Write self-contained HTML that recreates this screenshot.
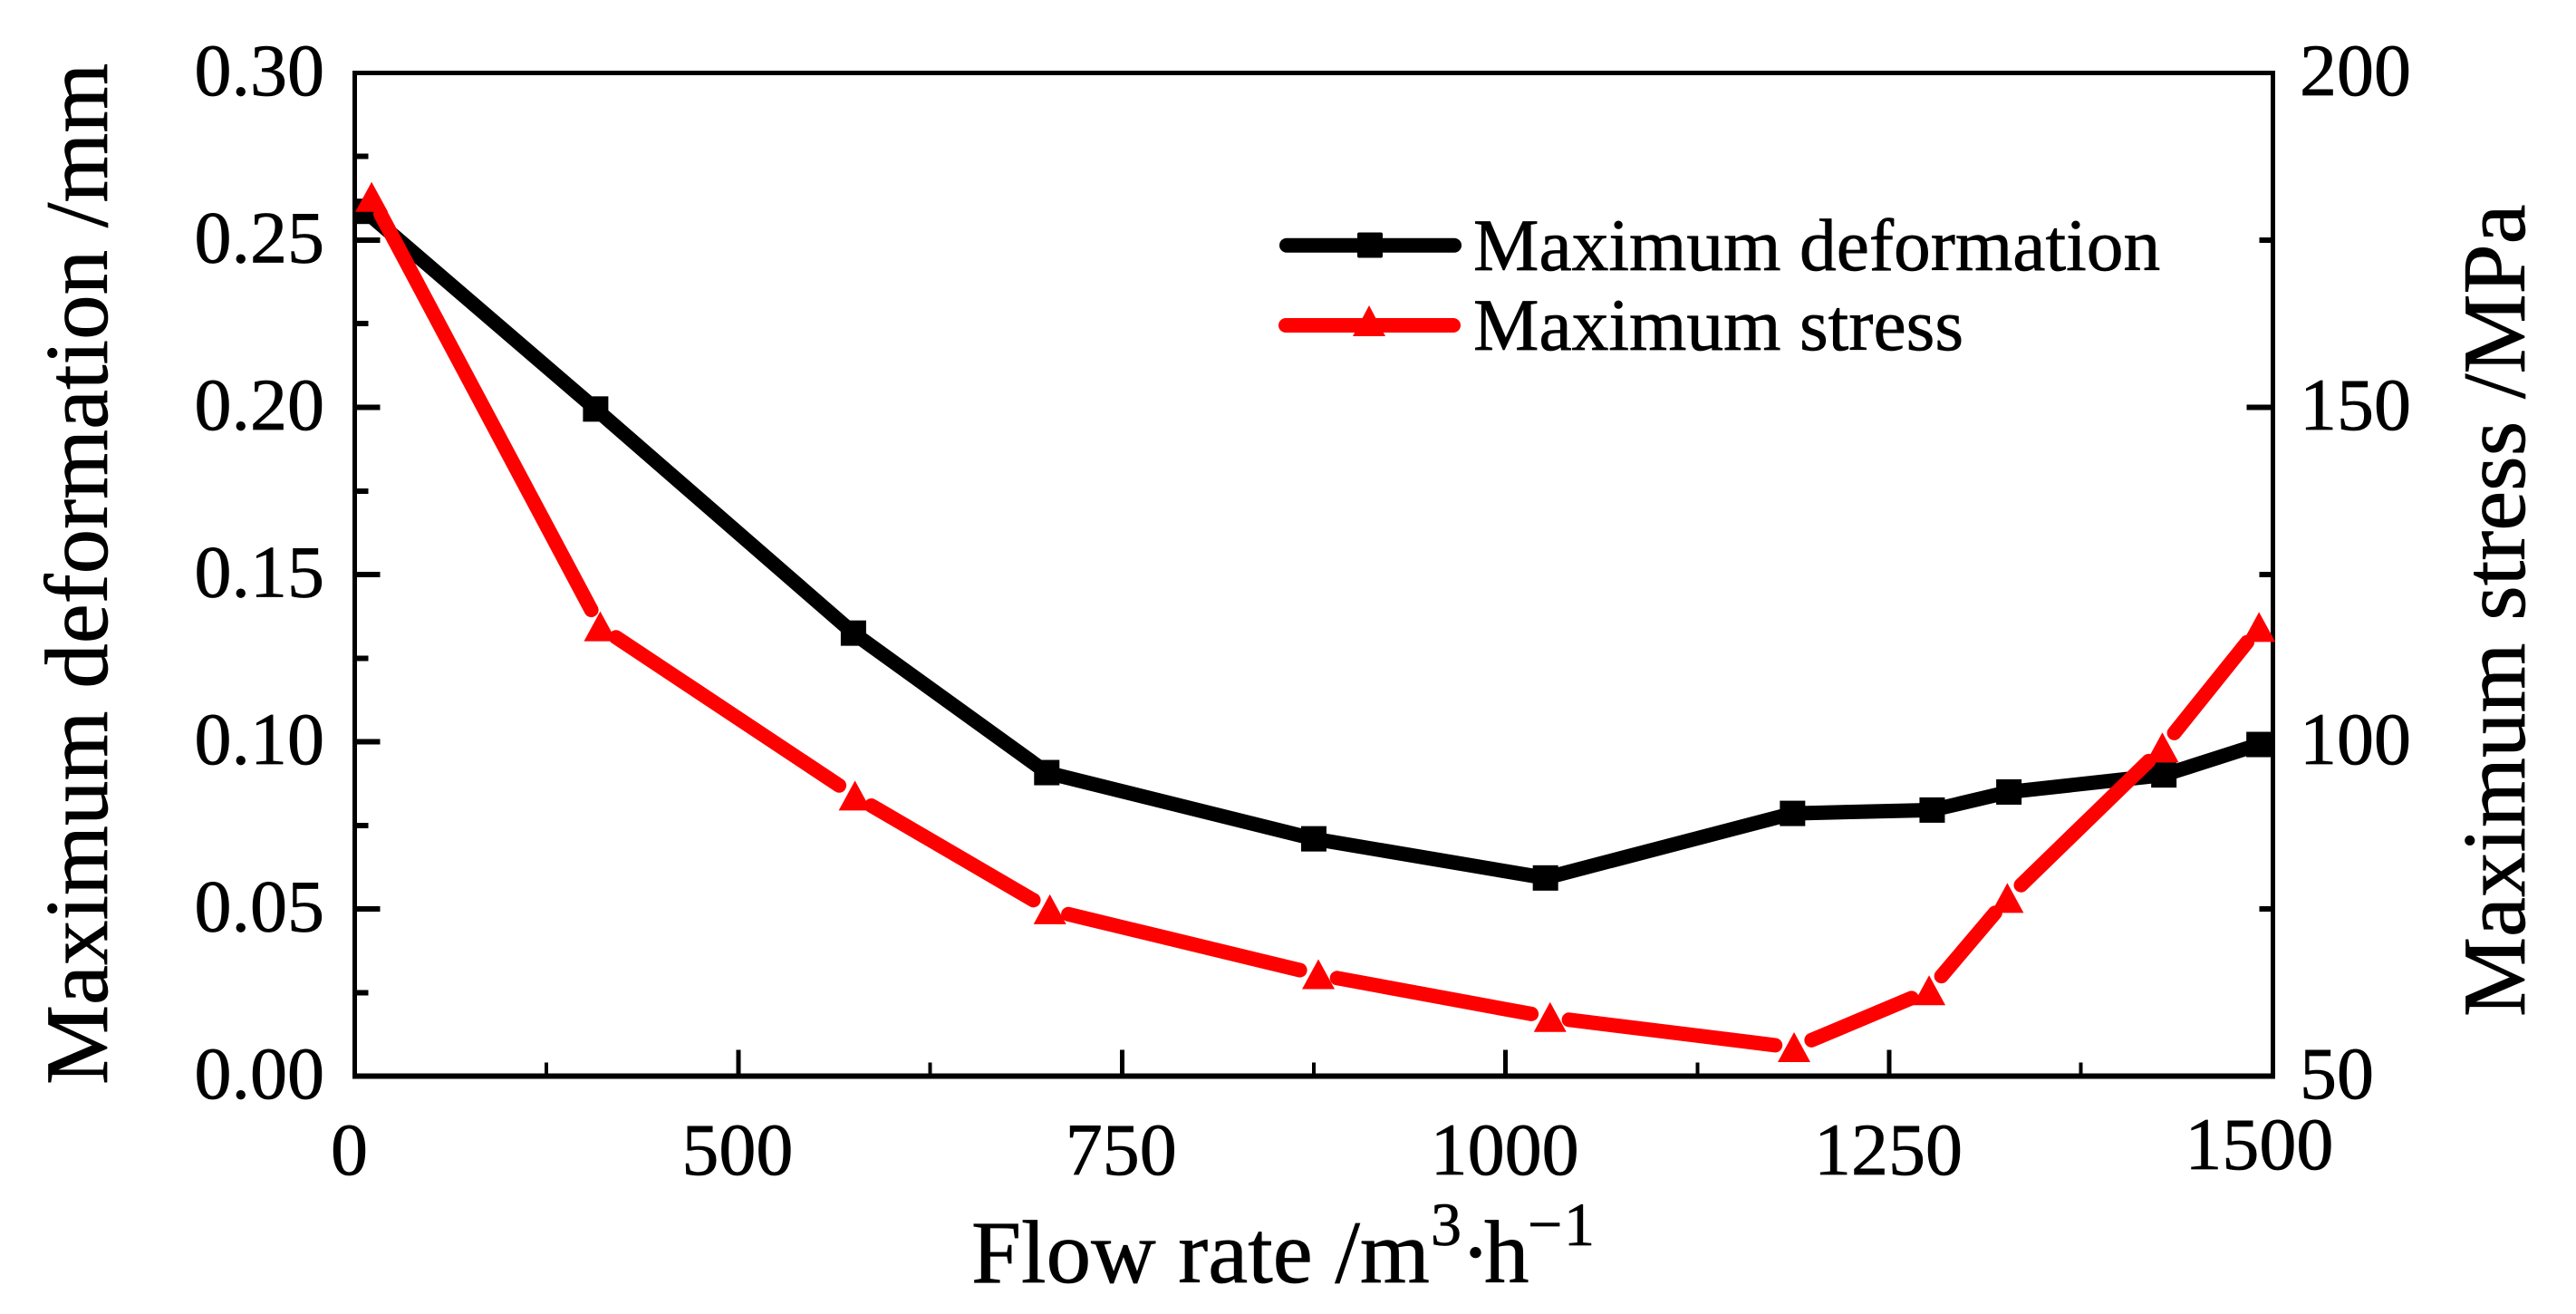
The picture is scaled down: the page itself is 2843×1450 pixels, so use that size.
<!DOCTYPE html>
<html lang="en">
<head>
<meta charset="utf-8">
<title>Maximum deformation and stress vs flow rate</title>
<style>
html,body{margin:0;padding:0;background:#fff;}
svg{display:block;}
text{font-family:"Liberation Serif","Times New Roman",serif;fill:#000;stroke:#000;stroke-width:0.7px;}
</style>
</head>
<body>
<svg id="chart" xmlns="http://www.w3.org/2000/svg" width="2843" height="1450" viewBox="0 0 2843 1450">
  <rect x="0" y="0" width="2843" height="1450" fill="#fff"/>
  <g id="ticks" shape-rendering="crispEdges"></g>
  <g id="labels"></g>
  <g stroke="#000" fill="none" shape-rendering="crispEdges">
    <line x1="391.5" y1="78" x2="391.5" y2="1190.5" stroke-width="5"/>
    <line x1="389" y1="1187.7" x2="2511" y2="1187.7" stroke-width="6"/>
    <line x1="389" y1="80.4" x2="2511" y2="80.4" stroke-width="5"/>
    <line x1="2508.4" y1="78" x2="2508.4" y2="1190.5" stroke-width="5"/>
  </g>
  <g id="series"></g>

  <text transform="translate(118,1197) rotate(-90)" font-size="99">Maximum deformation /mm</text>
  <text transform="translate(2786,1122) rotate(-90)" font-size="99">Maximum stress /MPa</text>
  <text x="1072" y="1415" font-size="99">Flow rate /m<tspan x="1579" y="1374" font-size="68">3</tspan><tspan x="1612" y="1415">·</tspan><tspan x="1638" y="1415">h</tspan><tspan x="1686" y="1374" font-size="68">−</tspan><tspan x="1726" y="1374" font-size="68">1</tspan></text>

  <g>
    <g>
      <line x1="1420" y1="270.7" x2="1605" y2="270.7" stroke="#000" stroke-width="16" stroke-linecap="round"/>
      <rect x="1498" y="256.5" width="28" height="28" rx="2" fill="#000"/>
      <text x="1626" y="298" font-size="81.5">Maximum deformation</text>
    </g>
    <g>
      <line x1="1419" y1="359" x2="1604" y2="359" stroke="#f00" stroke-width="16" stroke-linecap="round"/>
      <polygon points="1511,337 1529,371 1493,371" fill="#f00"/>
      <text x="1626" y="386" font-size="81.5">Maximum stress</text>
    </g>
  </g>
</svg>
<script>
// Chart data
const flowDeformation = [257, 407, 575, 701, 875, 1026, 1187, 1278, 1328, 1429, 1491];
const maxDeformation = [0.2586, 0.1995, 0.1325, 0.0908, 0.0710, 0.0593, 0.0786, 0.0796, 0.0850, 0.0901, 0.0992];
const flowStress = [261, 410, 576, 703, 878, 1029, 1188, 1276, 1327, 1428, 1491];
const maxStress = [181.4, 117.2, 91.9, 74.9, 65.2, 58.8, 54.3, 62.8, 76.6, 99.1, 117.1];

const xMajorTicks = [500, 750, 1000, 1250];
const xMinorTicks = [375, 625, 875, 1125, 1375];
const xLabelValues = [250, 500, 750, 1000, 1250, 1500];
const xLabelTexts = ['0', '500', '750', '1000', '1250', '1500'];
const yLeftMajor = [0.05, 0.10, 0.15, 0.20, 0.25];
const yLeftMinor = [0.025, 0.075, 0.125, 0.175, 0.225, 0.275];
const yLeftLabelValues = [0, 0.05, 0.10, 0.15, 0.20, 0.25, 0.30];
const yLeftLabelTexts = ['0.00', '0.05', '0.10', '0.15', '0.20', '0.25', '0.30'];
const yRightMajor = [100, 150];
const yRightMinor = [75, 125, 175];
const yRightLabelValues = [50, 100, 150, 200];
const yRightLabelTexts = ['50', '100', '150', '200'];

const NS = 'http://www.w3.org/2000/svg';
const PLOT = { left: 391.5, right: 2508.4, top: 80.4, bottom: 1187.7 };
function xScale(v) { return PLOT.left + (v - 250) / 1250 * (PLOT.right - PLOT.left); }
function yLeft(v) { return PLOT.bottom - v / 0.30 * (PLOT.bottom - PLOT.top); }
function yRight(v) { return PLOT.bottom - (v - 50) / 150 * (PLOT.bottom - PLOT.top); }

const ticksG = document.getElementById('ticks');
const labelsG = document.getElementById('labels');
const seriesG = document.getElementById('series');

function makeLine(x1, y1, x2, y2, w, color) {
  const l = document.createElementNS(NS, 'line');
  l.setAttribute('x1', x1);
  l.setAttribute('y1', y1);
  l.setAttribute('x2', x2);
  l.setAttribute('y2', y2);
  l.setAttribute('stroke', color);
  l.setAttribute('stroke-width', w);
  return l;
}
function makeText(str, x, y, anchor) {
  const t = document.createElementNS(NS, 'text');
  t.setAttribute('x', x);
  t.setAttribute('y', y);
  t.setAttribute('font-size', '82');
  t.setAttribute('text-anchor', anchor);
  t.textContent = str;
  return t;
}

xMajorTicks.forEach(function (v) {
  const el = makeLine(xScale(v), PLOT.bottom, xScale(v), PLOT.bottom - 29, 5, '#000');
  
  
  ticksG.appendChild(el);
});
xMinorTicks.forEach(function (v) {
  const el = makeLine(xScale(v), PLOT.bottom, xScale(v), PLOT.bottom - 15, 4, '#000');
  
  
  ticksG.appendChild(el);
});
yLeftMajor.forEach(function (v) {
  const el = makeLine(PLOT.left, yLeft(v), PLOT.left + 28, yLeft(v), 6, '#000');
  
  
  ticksG.appendChild(el);
});
yLeftMinor.forEach(function (v) {
  const el = makeLine(PLOT.left, yLeft(v), PLOT.left + 15, yLeft(v), 6, '#000');
  
  
  ticksG.appendChild(el);
});
yRightMajor.forEach(function (v) {
  const el = makeLine(PLOT.right, yRight(v), PLOT.right - 29, yRight(v), 6, '#000');
  
  
  ticksG.appendChild(el);
});
yRightMinor.forEach(function (v) {
  const el = makeLine(PLOT.right, yRight(v), PLOT.right - 15, yRight(v), 6, '#000');
  
  
  ticksG.appendChild(el);
});

xLabelValues.forEach(function (v, i) {
  const last = xLabelValues.length - 1;
  const dx = i === 0 ? -6 : (i === last ? -15 : -1);
  const baseline = i === last ? 1290 : 1296;
  const el = makeText(xLabelTexts[i], xScale(v) + dx, baseline, 'middle');
  
  
  labelsG.appendChild(el);
});
yLeftLabelValues.forEach(function (v, i) {
  const el = makeText(yLeftLabelTexts[i], 358, yLeft(v) + 24.5, 'end');
  
  
  labelsG.appendChild(el);
});
yRightLabelValues.forEach(function (v, i) {
  const el = makeText(yRightLabelTexts[i], 2538, yRight(v) + 24.5, 'start');
  
  
  labelsG.appendChild(el);
});

// Deformation series: continuous line with square markers
const deformationLine = document.createElementNS(NS, 'polyline');


deformationLine.setAttribute('points', flowDeformation.map(function (f, i) {
  return xScale(f) + ',' + yLeft(maxDeformation[i]);
}).join(' '));
deformationLine.setAttribute('fill', 'none');
deformationLine.setAttribute('stroke', '#000');
deformationLine.setAttribute('stroke-width', '16');
deformationLine.setAttribute('stroke-linejoin', 'round');
seriesG.appendChild(deformationLine);

flowDeformation.forEach(function (f, i) {
  const m = document.createElementNS(NS, 'rect');
  
  
  m.setAttribute('x', xScale(f) - 14);
  m.setAttribute('y', yLeft(maxDeformation[i]) - 14);
  m.setAttribute('width', 28);
  m.setAttribute('height', 28);
  m.setAttribute('fill', '#000');
  seriesG.appendChild(m);
});

// Stress series: segments stop short of each triangle marker
const GAP = 21;
flowStress.forEach(function (f, i) {
  if (i === flowStress.length - 1) return;
  const x1 = xScale(f);
  const y1 = yRight(maxStress[i]);
  const x2 = xScale(flowStress[i + 1]);
  const y2 = yRight(maxStress[i + 1]);
  const len = Math.hypot(x2 - x1, y2 - y1);
  const ux = (x2 - x1) / len;
  const uy = (y2 - y1) / len;
  const seg = makeLine(x1 + ux * GAP, y1 + uy * GAP, x2 - ux * GAP, y2 - uy * GAP, 16, '#f00');
  seg.setAttribute('stroke-linecap', 'round');
  
  
  seriesG.appendChild(seg);
});
flowStress.forEach(function (f, i) {
  const cx = xScale(f);
  const cy = yRight(maxStress[i]);
  const t = document.createElementNS(NS, 'polygon');
  
  
  t.setAttribute('points', cx + ',' + (cy - 17) + ' ' + (cx + 18) + ',' + (cy + 16) + ' ' + (cx - 18) + ',' + (cy + 16));
  t.setAttribute('fill', '#f00');
  seriesG.appendChild(t);
});
</script>
</body>
</html>
